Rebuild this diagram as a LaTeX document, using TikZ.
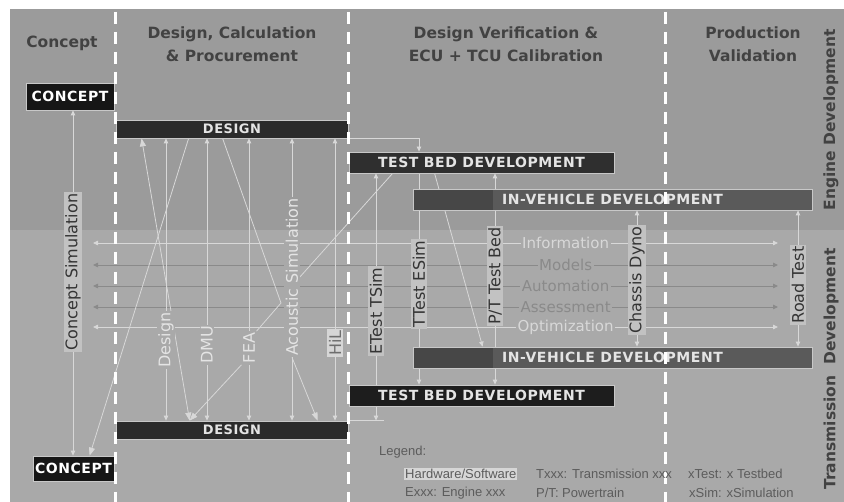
\documentclass[tikz,border=0pt]{standalone}
\usepackage{fontspec}
\setmainfont{DejaVu Sans}
\newfontfamily\barfont[LetterSpace=4]{DejaVu Sans}
\newfontfamily\legfont{Liberation Sans}
\usetikzlibrary{arrows.meta,calc}
\pgfdeclarelayer{back}
\pgfdeclarelayer{lines}
\pgfsetlayers{back,lines,main}

\definecolor{bandup}{HTML}{9B9B9B}
\definecolor{bandlo}{HTML}{A9A9A9}
\definecolor{flowc}{HTML}{D8D8D8}
\definecolor{dimline}{HTML}{8A8A8A}
\definecolor{barrim}{HTML}{C8C8C8}
\definecolor{conceptfill}{HTML}{161616}
\definecolor{designfill}{HTML}{2B2B2B}
\definecolor{tbfill}{HTML}{2F2F2F}
\definecolor{tbdark}{HTML}{1D1D1D}
\definecolor{ivfill}{HTML}{5A5A5A}
\definecolor{ivdark}{HTML}{474747}
\definecolor{bartext}{HTML}{E4E4E4}
\definecolor{hdrgrey}{HTML}{424242}
\definecolor{labbox}{HTML}{C2C2C2}
\definecolor{labdark}{HTML}{343434}
\definecolor{lablight}{HTML}{E4E4E4}
\definecolor{legtext}{HTML}{5C5C5C}
\definecolor{legbox}{HTML}{D6D6D6}

\tikzset{
  bar/.style={draw=barrim, line width=0.8pt, inner sep=0pt, text=bartext,
    font=\fontsize{14}{14}\selectfont\barfont\bfseries},
  ivbar/.style={bar, fill=ivfill, text=lablight, minimum width=399pt, minimum height=21pt,
    path picture={\fill[ivdark] (path picture bounding box.south west) rectangle
      ($(path picture bounding box.north west)+(80,0)$);}},
  flow/.style={draw=flowc, line width=0.8pt},
  bigtip/.style={>={Triangle[length=8pt,width=6pt]}},
  vlab/.style={rotate=90, inner sep=1.5pt, font=\fontsize{16}{16}\selectfont},
  lightlab/.style={vlab, text=lablight, fill=bandlo},
  darklab/.style={vlab, text=labdark, fill=labbox},
  hillab/.style={vlab, text=dimline!80!black, fill=legbox},
  infolab/.style={inner sep=1.5pt, fill=bandlo, font=\fontsize{15}{15}\selectfont},
  hdr/.style={text=hdrgrey, align=center, font=\fontsize{15.5}{23}\selectfont\bfseries},
  side/.style={hdr, rotate=90},
  leg/.style={anchor=west, inner sep=1pt, text=legtext, font=\fontsize{13}{13}\selectfont\legfont}
}

\begin{document}
\begin{tikzpicture}[x=1pt,y=-1pt,>={Triangle[length=5pt,width=4.5pt]}]
  \useasboundingbox (0,0) rectangle (844,502);
  \begin{pgfonlayer}{back}
    \fill[white] (0,0) rectangle (844,502);
    \fill[bandup] (10,9) rectangle (844,230);
    \fill[bandlo] (10,230) rectangle (844,502);
  \end{pgfonlayer}

  \node[bar, fill=conceptfill, text=white, minimum width=88pt, minimum height=27pt] (ctT) at (70,96.5) {CONCEPT};
  \node[bar, fill=designfill, minimum width=232pt, minimum height=18pt, font=\fontsize{13}{13}\selectfont\barfont\bfseries] (desT) at (232,129) {DESIGN};
  \node[bar, fill=tbfill, minimum width=265pt, minimum height=21pt] (tbT) at (481.5,162.5) {TEST BED DEVELOPMENT};
  \node[ivbar] (ivT) at (612.5,199.5) {IN-VEHICLE DEVELOPMENT};
  \node[ivbar] (ivB) at (612.5,357.5) {IN-VEHICLE DEVELOPMENT};
  \node[bar, fill=tbdark, minimum width=265pt, minimum height=21pt] (tbB) at (481.5,395.5) {TEST BED DEVELOPMENT};
  \node[bar, fill=designfill, minimum width=232pt, minimum height=18pt, font=\fontsize{13}{13}\selectfont\barfont\bfseries] (desB) at (232,430) {DESIGN};
  \node[bar, fill=conceptfill, text=white, minimum width=81pt, minimum height=25pt] (ctB) at (73.5,468.5) {CONCEPT};

  \node[darklab] (csim) at (73,272) {Concept Simulation};
  \node[lightlab] (ldes) at (166,340) {Design};
  \node[lightlab] (ldmu) at (207,345) {DMU};
  \node[lightlab] (lfea) at (249,348) {FEA};
  \node[lightlab, fill=none] (lacs) at (292,277) {Acoustic Simulation};
  \node[hillab] (lhil) at (335,343) {HiL};
  \node[darklab] (letest) at (376,311) {ETest TSim};
  \node[darklab] (lttest) at (419,284) {TTest ESim};
  \node[darklab] (lptb) at (495,276) {P/T Test Bed};
  \node[darklab] (lcd) at (637,280) {Chassis Dyno};
  \node[darklab] (lrt) at (798,285) {Road Test};

  \begin{pgfonlayer}{lines}
    \foreach \y/\c/\t [count=\i] in {243/flowc/Information, 265/dimline/Models,
        286/dimline/Automation, 307/dimline/Assessment, 327/flowc/Optimization} {
      \coordinate (infoL\i) at (93,\y);
      \coordinate (infoR\i) at (778,\y);
      \draw[draw=\c, line width=0.8pt, <->] (infoL\i) -- node[pos=.69, infolab, text=\c] (info\i) {\t} (infoR\i);
    }
    \draw[flow,<->] (ctT.south -| csim) -- (ctB.north -| csim);
    \foreach \n in {ldes,ldmu,lfea,lacs,lhil}
      \draw[flow,<->] (desT.south -| \n) -- (desB.north -| \n);
    \draw[flow,bigtip,<->] ($(desT.south west)+(26,0)$) -- ($(desB.north west)+(74,0)$);
    \draw[flow,bigtip,->] ($(desT.south west)+(73,0)$) -- ($(ctB.north west)+(57,0)$);
    \coordinate (acsIn) at (281,303);
    \draw[flow] ($(desT.south west)+(107,0)$) -- (acsIn) -- (lfea.south east);
    \draw[flow,bigtip,->] (lfea.north west) -- ($(desB.north west)+(74,0)$);
    \draw[flow] ($(tbT.south west)+(44,0)$) -- (lacs.south);
    \draw[flow,bigtip,->] (lacs.west) -- ($(desB.north west)+(202,0)$);
    \draw[flow,->] (desT.south east) -| (tbT.north -| lttest);
    \draw[flow,->] (tbT.south -| lttest) -- (tbB.north -| lttest);
    \draw[flow] (desB.north east) -- (desB.north east -| letest.south);
    \draw[flow,<->] (tbT.south -| letest) -- (desB.north -| letest);
    \draw[flow,<->] (tbT.south -| lptb) -- (tbB.north -| lptb);
    \draw[flow,->] ($(tbT.south west)+(86,0)$) -- ($(ivB.north west)+(70,0)$);
    \draw[flow,<->] (ivT.south -| lcd) -- (ivB.north -| lcd);
    \draw[flow,<->] (ivT.south -| lrt) -- (ivB.north -| lrt);
    \fill[bandup] (lacs.north east) rectangle (lacs.south |- 0,230);
    \fill[bandlo] (lacs.north west |- 0,230) rectangle (lacs.south west);
  \end{pgfonlayer}

  \foreach \x in {115,348,665}
    \draw[white, line width=3pt, dash pattern=on 12pt off 8pt] (\x,12) -- (\x,502);

  \node[hdr] (hConcept) at (62,43) {Concept};
  \node[hdr] (hDesign) at (232,44) {Design, Calculation\\\& Procurement};
  \node[hdr] (hVerify) at (506,44) {Design Verification \&\\ECU + TCU Calibration};
  \node[hdr] (hProd) at (753,44) {Production\\Validation};
  \node[side] (sEngine) at (831,120) {Engine Development};
  \node[side] (sTrans) at (831,369) {Transmission\ \ Development};

  \node[leg] (lgTitle) at (378,452) {Legend:};
  \node[leg, fill=legbox] (lgHw) at (404,474) {Hardware/Software};
  \node[leg] (lgT) at (535,474) {Txxx: Transmission xxx};
  \node[leg] (lgTest) at (687,474) {xTest: x Testbed};
  \node[leg] (lgE) at (404,493) {Exxx: Engine xxx};
  \node[leg] (lgPT) at (535,493) {P/T: Powertrain};
  \node[leg] (lgSim) at (688,493) {xSim: xSimulation};
\end{tikzpicture}
\end{document}
